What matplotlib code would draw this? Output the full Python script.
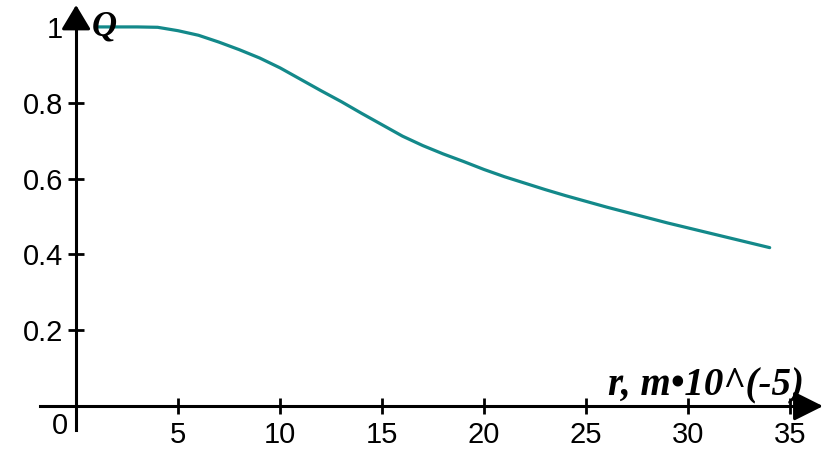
import matplotlib.pyplot as plt

# curve
r_vals = [1, 2, 3, 4, 5, 6, 7, 8, 9, 10, 11, 12, 13, 14, 15, 16, 17, 18,
          19, 20, 21, 22, 23, 24, 25, 26, 27, 28, 29, 30, 31, 32, 33, 34]
q_vals = [1.0, 1.0, 1.0, 0.999, 0.99, 0.978, 0.96, 0.94, 0.918, 0.892,
          0.862, 0.832, 0.803, 0.772, 0.742, 0.712, 0.687, 0.665, 0.645,
          0.624, 0.605, 0.588, 0.571, 0.555, 0.54, 0.525, 0.511, 0.497,
          0.483, 0.47, 0.457, 0.444, 0.431, 0.418]
x_ticks = [5, 10, 15, 20, 25, 30, 35]
y_ticks = [0.2, 0.4, 0.6, 0.8, 1]
y_labels = ['0.2', '0.4', '0.6', '0.8', '1']

fig = plt.figure(figsize=(8.37, 4.49), dpi=100)
ax = fig.add_axes([0, 0, 1, 1])
ax.set_xlim(-3.73, 37.3)
ax.set_ylim(-0.113, 1.071)

for s in ['top', 'right']:
    ax.spines[s].set_visible(False)
ax.spines['left'].set_position(('data', 0))
ax.spines['bottom'].set_position(('data', 0))
ax.spines['left'].set_bounds(-0.063, 1.03)
ax.spines['bottom'].set_bounds(-1.76, 36.0)
for s in ['left', 'bottom']:
    ax.spines[s].set_linewidth(2.2)

ax.set_xticks(x_ticks)
ax.set_yticks(y_ticks)
ax.set_yticklabels(y_labels)
ax.tick_params(direction='inout', length=11, width=2, labelsize=21,
               color='black')
ax.tick_params(axis='x', pad=5)
ax.tick_params(axis='y', pad=4)
for lab in ax.get_xticklabels() + ax.get_yticklabels():
    lab.set_fontfamily('Liberation Sans')

# arrow heads
ax.annotate('', xy=(36.75, 0), xytext=(35.5, 0),
            arrowprops=dict(arrowstyle='-|>,head_length=0.9,head_width=0.45',
                            color='black', lw=2.2, mutation_scale=20))
ax.annotate('', xy=(0, 1.065), xytext=(0, 1.0),
            arrowprops=dict(arrowstyle='-|>,head_length=0.75,head_width=0.45',
                            color='black', lw=2.2, mutation_scale=20))

ax.text(-0.4, -0.052, '0', fontsize=21, family='Liberation Sans',
        ha='right', va='center')

ax.plot(r_vals, q_vals, color='#13898a', lw=2.3, solid_capstyle='round')

ax.text(0.75, 1.0, 'Q', fontsize=25, family='Liberation Serif',
        weight='bold', style='italic', ha='left', va='center')
ax.text(30.9, 0.028, 'r, m\u202210^(-5)', fontsize=28,
        family='Liberation Serif', weight='bold', style='italic',
        ha='center', va='baseline')

fig.savefig('out.png', dpi=100)
